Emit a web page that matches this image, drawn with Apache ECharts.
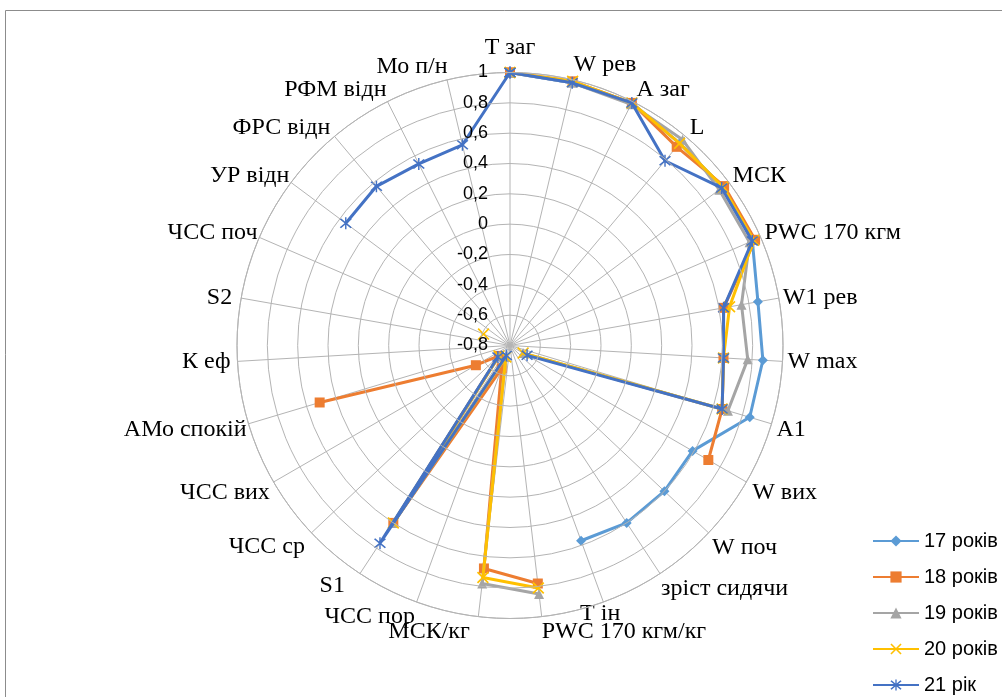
<!DOCTYPE html>
<html>
<head>
<meta charset="utf-8">
<title>Радарна діаграма</title>
<script src="https://cdn.jsdelivr.net/npm/echarts@6/dist/echarts.min.js"></script>
<style>
  html, body { margin: 0; padding: 0; background: #ffffff; }
  #chart { width: 1002px; height: 697px; }
</style>
</head>
<body>
<div id="chart"></div>
<script>
// Показники (за годинниковою стрілкою від верхньої осі)
const indicators = [
  'T заг', 'W рев', 'A заг', 'L', 'МСК', 'PWC 170 кгм', 'W1 рев', 'W max', 'A1',
  'W вих', 'W поч', 'зріст сидячи', 'T ін', 'PWC 170 кгм/кг', 'МСК/кг', 'ЧСС пор',
  'S1', 'ЧСС ср', 'ЧСС вих', 'АМо спокій', 'К еф', 'S2', 'ЧСС поч', 'УР відн',
  'ФРС відн', 'РФМ відн', 'Мо п/н'
];

// Шкала радіальної осі
const radialTicks = [-0.8, -0.6, -0.4, -0.2, 0, 0.2, 0.4, 0.6, 0.8, 1];

// Вікові групи
const seriesNames = ['17 років', '18 років', '19 років', '20 років', '21 рік'];

// null — значення відсутнє (розрив лінії)
const age17 = [1.0, 0.98, 0.99, 0.94, 0.95, 0.94, 0.86, 0.87, 0.85, 0.59, 0.60, 0.60, 0.57,
  null, null, null, null, null, null, null, null, null, null, null, null, null, null];
const age18 = [1.0, 0.99, 0.99, 0.91, 0.96, 0.96, 0.63, 0.61, 0.66, 0.71, null, null, null,
  0.78, 0.68, -0.64, 0.60, -0.70, -0.54, 0.51, null, null, null, null, null, null, null];
const age19 = [1.0, 0.98, 0.98, 0.97, 0.92, 0.92, 0.75, 0.77, 0.70, -0.70, null, null, null,
  0.85, 0.78, -0.72, 0.60, -0.70, null, null, null, null, null, null, null, null, null];
const age20 = [1.0, 0.99, 0.99, 0.94, 0.95, 0.95, 0.67, 0.61, 0.66, -0.70, null, null, null,
  0.81, 0.74, -0.72, 0.60, -0.70, null, null, null, null, -0.61, null, null, null, null];
const age21 = [1.0, 0.98, 0.99, 0.79, 0.94, 0.94, 0.63, 0.61, 0.66, -0.67, null, null, null,
  null, null, -0.73, 0.76, -0.69, null, null, null, null, null, 0.55, 0.57, 0.54, 0.56];

const seriesValues = [age17, age18, age19, age20, age21];
const colors = ['#5B9BD5', '#ED7D31', '#A5A5A5', '#FFC000', '#4472C4'];

// Маркери: ромб, квадрат, трикутник, хрестик, зірочка
const crossPath = 'path://M1,0 L5,4 L9,0 L10,1 L6,5 L10,9 L9,10 L5,6 L1,10 L0,9 L4,5 L0,1 Z';
const starPath = 'path://M1,0 L5,4 L9,0 L10,1 L6,5 L10,9 L9,10 L5,6 L1,10 L0,9 L4,5 L0,1 Z M4.4,-1 L5.6,-1 L5.6,11 L4.4,11 Z';
const symbols = ['diamond', 'rect', 'triangle', crossPath, starPath];
const symbolSizes = [10, 10, 10, 12, 12];

const N = indicators.length;

function fmtTick(v) {
  const r = Math.round(v * 10) / 10;
  return String(r).replace('.', ',');
}

// Полярні точки [радіус, кут-індекс]; остання точка замикає контур
function toPolar(values) {
  const pts = values.map((v, i) => [v === null ? '-' : v, i]);
  pts.push([values[0] === null ? '-' : values[0], N]);
  return pts;
}

// Зсуви підписів осей: [відступ зверху, справа, знизу, зліва], висота рядка
const labelPads = {
  0:  [[0, 0, 21, 0], 24],
  1:  [[0, 0, 3, 63], 24],
  2:  [[0, 0, 0, 3], 20],
  3:  [[0, 0, 0, 3], 14],
  4:  [[0, 0, 0, 2], 11],
  5:  [[0, 0, 0, 2], 7],
  6:  [[0, 0, 0, 2], 24],
  7:  [[0, 0, 0, 3], 24],
  8:  [[11, 0, 0, 3], 24],
  9:  [[0, 0, 0, 4], 20],
  10: [[3, 0, 0, 2], 24],
  11: [[2, 0, 0, 0], 24],
  12: [[0, 0, 0, -24], 20],
  13: [[3, 0, 0, 164], 24],
  14: [[3, 98, 0, 0], 24],
  15: [[1, 1, 0, 0], 24],
  16: [[0, 14, 0, 0], 20],
  17: [[0, 5, 0, 0], 24],
  18: [[0, 2, 0, 0], 20],
  19: [[11, 0, 0, 0], 24],
  20: [[0, 5, 0, 0], 24],
  21: [[0, 7, 0, 0], 24],
  22: [[0, 0, 0, 0], 7],
  23: [[0, 0, 0, 0], 11],
  24: [[0, 3, 0, 0], 14],
  25: [[0, 0, 0, 0], 20],
  26: [[0, 69, 0, 0], 22]
};

const rich = {};
indicators.forEach((name, i) => {
  const p = labelPads[i] || [[0, 0, 0, 0], 24];
  rich['l' + i] = {
    fontFamily: 'Liberation Serif',
    fontSize: 24,
    color: '#000',
    padding: p[0],
    lineHeight: p[1]
  };
});

const chart = echarts.init(document.getElementById('chart'), null, { renderer: 'canvas' });

chart.setOption({
  backgroundColor: '#ffffff',
  animation: false,
  color: colors,
  graphic: [{
    type: 'rect',
    shape: { x: 5.5, y: 10.5, width: 1200, height: 900 },
    style: { fill: 'none', stroke: '#8c8c8c', lineWidth: 1 },
    silent: true,
    z: -10
  }],
  polar: {
    center: [510, 345.5],
    radius: 273
  },
  angleAxis: {
    type: 'value',
    min: 0,
    max: N,
    interval: 1,
    startAngle: 90,
    clockwise: true,
    axisLine: { show: true, lineStyle: { color: '#b4b4b4', width: 1 } },
    axisTick: { show: false },
    splitLine: { show: true, lineStyle: { color: '#b4b4b4', width: 1 } },
    axisLabel: {
      margin: 2,
      formatter: function (v) {
        const i = Math.round(v);
        if (i < 0 || i >= N) return '';
        return '{l' + i + '|' + indicators[i] + '}';
      },
      rich: rich
    }
  },
  radiusAxis: {
    type: 'value',
    min: radialTicks[0],
    max: radialTicks[radialTicks.length - 1],
    interval: 0.2,
    axisLine: { show: false },
    axisTick: { show: false },
    splitLine: { show: true, lineStyle: { color: '#b4b4b4', width: 1 } },
    axisLabel: {
      show: true,
      fontFamily: 'Liberation Sans',
      fontSize: 18,
      color: '#000',
      margin: 22,
      formatter: fmtTick
    },
    z: 10
  },
  legend: {
    orient: 'vertical',
    left: 872,
    top: 531,
    padding: 0,
    itemWidth: 46,
    itemHeight: 14,
    itemGap: 16,
    textStyle: { fontFamily: 'Liberation Sans', fontSize: 20, color: '#000' },
    data: seriesNames
  },
  series: seriesValues.map((vals, k) => ({
    name: seriesNames[k],
    type: 'line',
    coordinateSystem: 'polar',
    data: toPolar(vals),
    connectNulls: false,
    symbol: symbols[k],
    symbolSize: symbolSizes[k],
    showAllSymbol: true,
    lineStyle: { width: 3, color: colors[k] },
    itemStyle: { color: colors[k] },
    z: 3 + k
  }))
});
</script>
</body>
</html>
